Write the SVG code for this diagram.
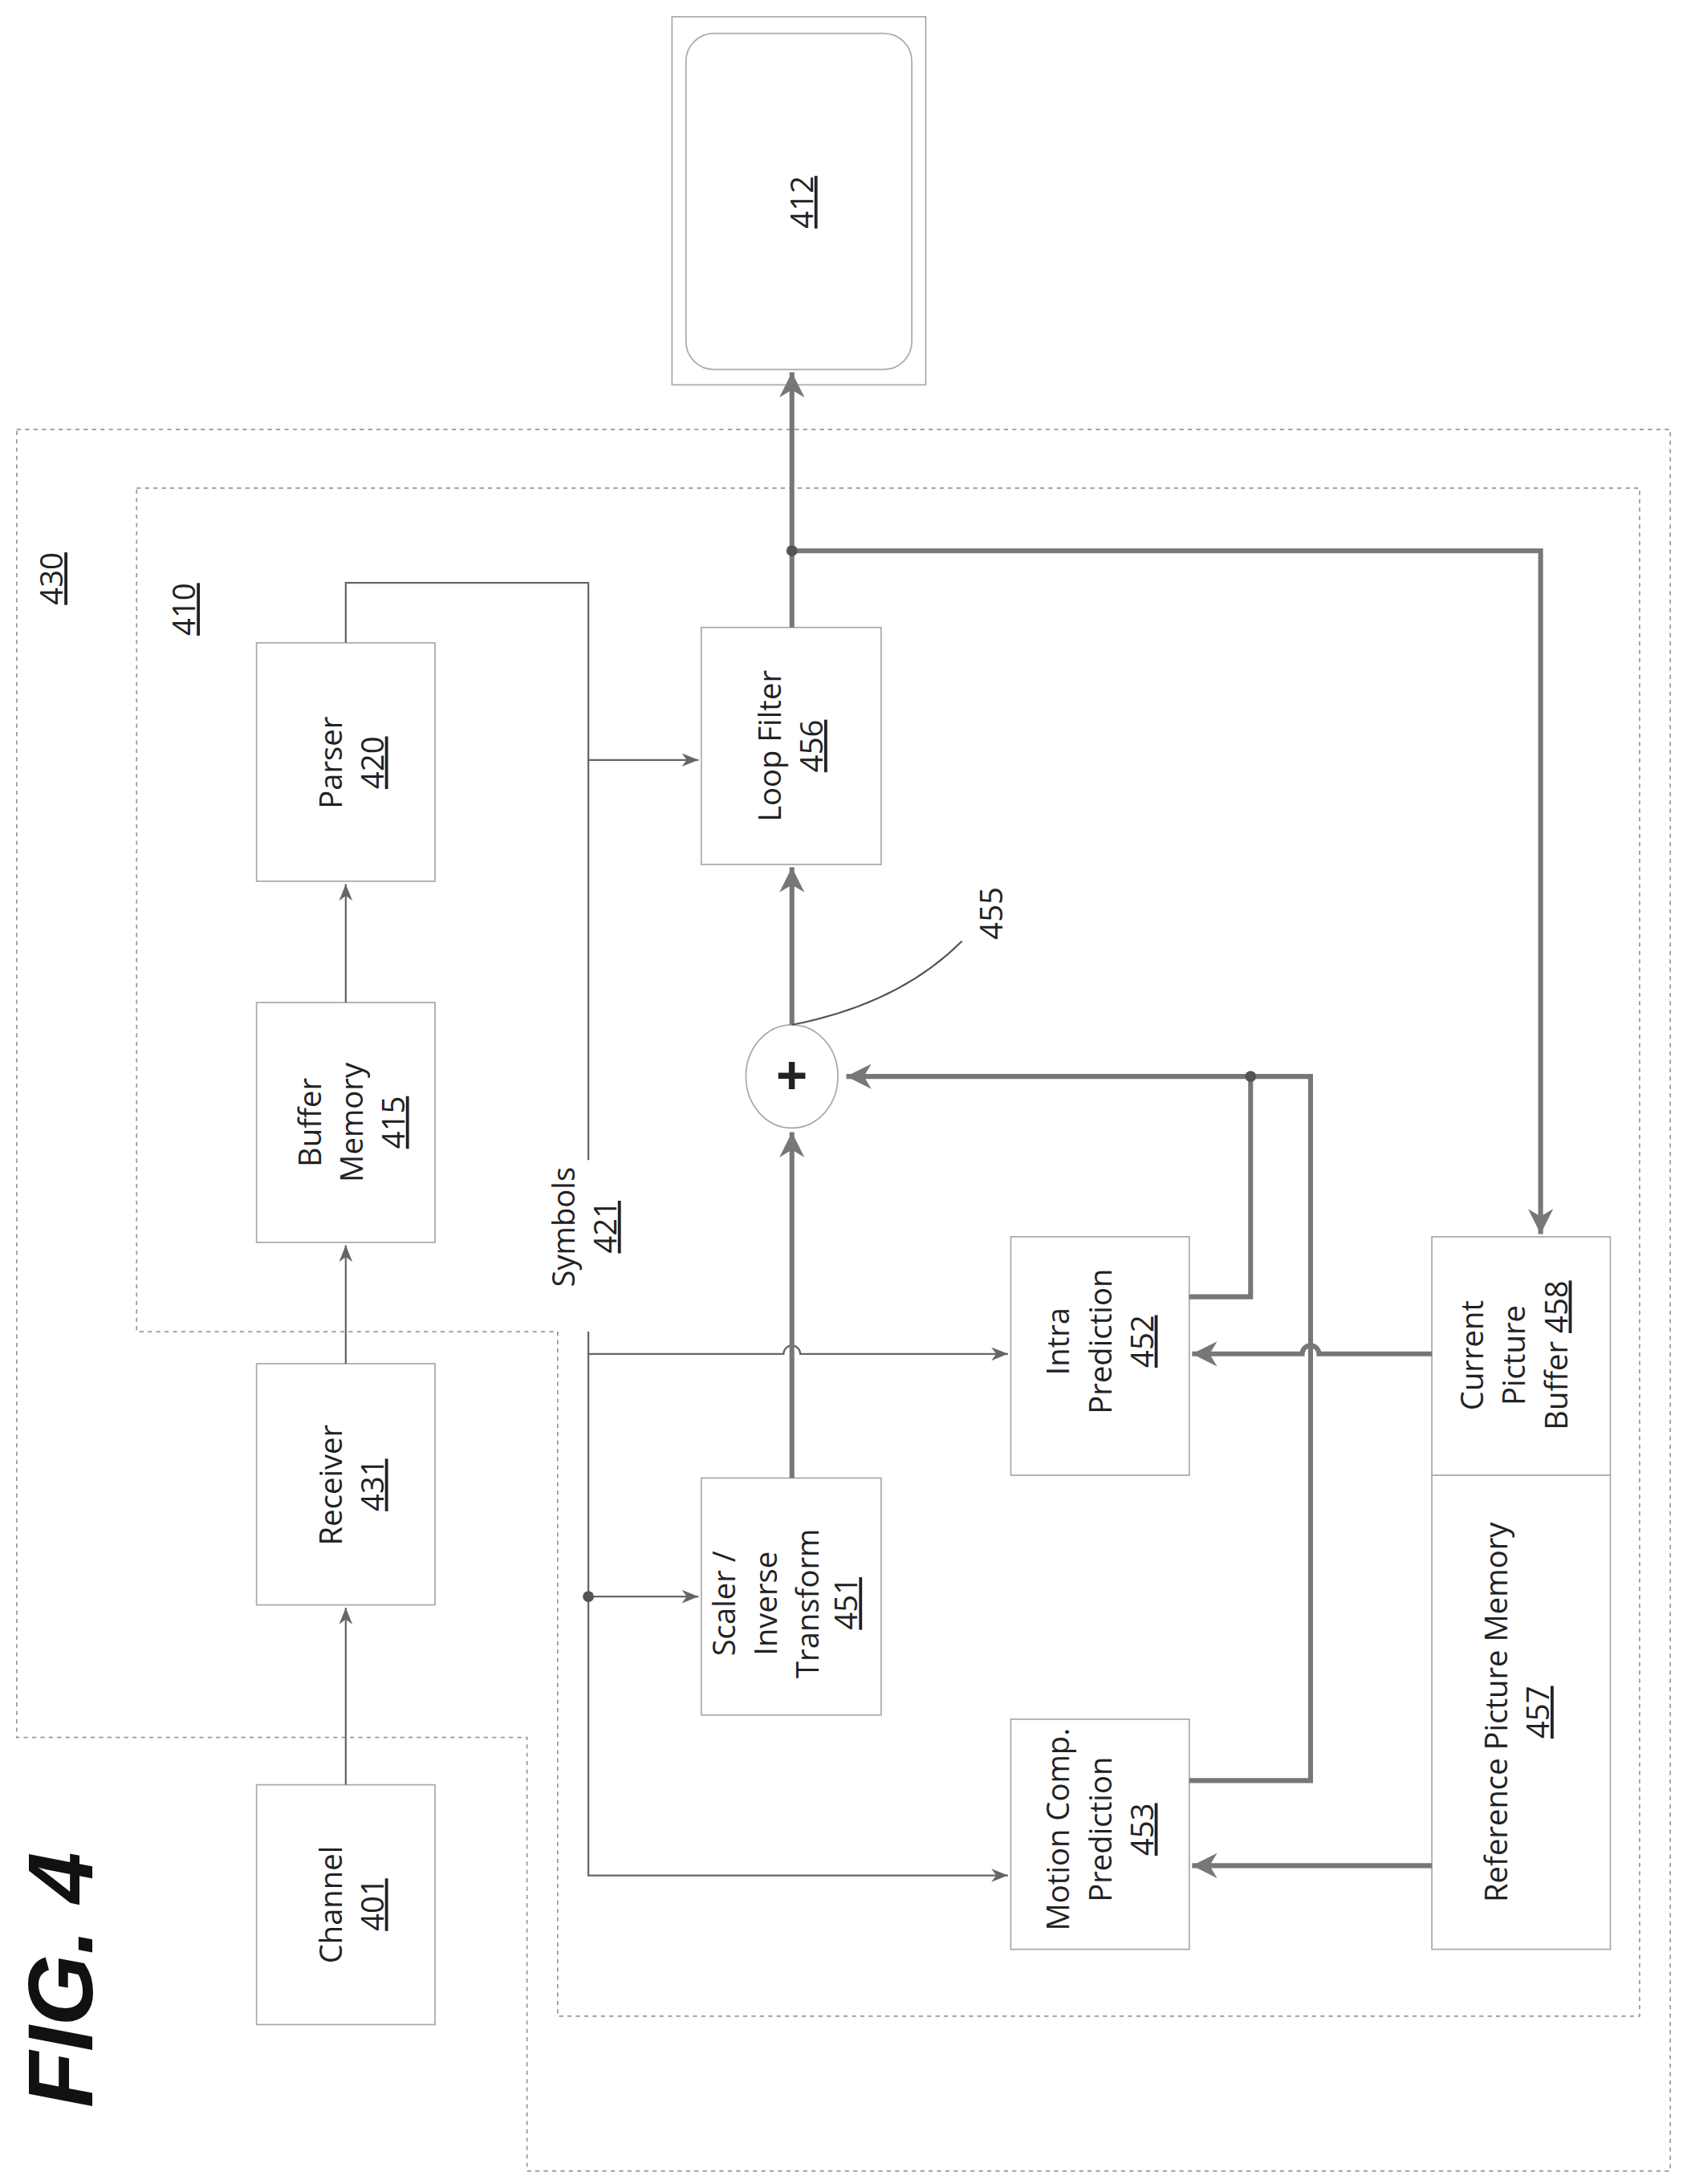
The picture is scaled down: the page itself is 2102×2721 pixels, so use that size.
<svg xmlns="http://www.w3.org/2000/svg" width="2102" height="2721" viewBox="0 0 2102 2721">
<style>
.box{fill:#fff;stroke:#aaa;stroke-width:1}
.dash{fill:none;stroke:#999;stroke-width:1;stroke-dasharray:3 3}
.thin{fill:none;stroke:#666;stroke-width:1.3}
.thick{fill:none;stroke:#777;stroke-width:3.5}
text{font-family:"Open Sans","Liberation Sans",sans-serif;font-size:22px;fill:#222;text-anchor:middle}
.u{text-decoration:underline}
</style>
<defs>
<marker id="a1" markerUnits="userSpaceOnUse" viewBox="0 0 10 10" refX="10" refY="5" markerWidth="12" markerHeight="12" orient="auto"><path d="M0,1 L10,5 L0,9 L3,5 z" fill="#666"/></marker>
<marker id="a2" markerUnits="userSpaceOnUse" viewBox="0 0 10 10" refX="10" refY="5" markerWidth="18" markerHeight="18" orient="auto"><path d="M0,0 L10,5 L0,10 L3,5 z" fill="#777"/></marker>
</defs>
<rect width="2102" height="2721" fill="#fff"/>
<g transform="scale(1.7372)">
<g id="frame430"><path class="dash" d="M12,308 H1198 V1557 H378 V1246 H12 Z"/>
<text class="u" transform="translate(45,415) rotate(-90)">430</text></g>
<g id="frame410"><path class="dash" d="M98,350 H1176 V1446 H400 V955 H98 Z"/>
<text class="u" transform="translate(140,437) rotate(-90)">410</text></g>
<g id="n412"><rect class="box" x="482" y="12" width="182" height="264"/><rect x="492" y="24" width="162" height="241" rx="20" fill="#fff" stroke="#aaa"/>
<text class="u" transform="translate(583,145) rotate(-90)">412</text></g>
<g id="n420"><rect class="box" x="184" y="461" width="128" height="171"/><text transform="translate(245,547) rotate(-90)"><tspan x="0">Parser</tspan><tspan class="u" x="0" dy="30">420</tspan></text></g>
<g id="n415"><rect class="box" x="184" y="719" width="128" height="172"/><text transform="translate(230,805) rotate(-90)"><tspan x="0">Buffer</tspan><tspan x="0" dy="30">Memory</tspan><tspan class="u" x="0" dy="30">415</tspan></text></g>
<g id="n431"><rect class="box" x="184" y="978" width="128" height="173"/><text transform="translate(245,1065) rotate(-90)"><tspan x="0">Receiver</tspan><tspan class="u" x="0" dy="30">431</tspan></text></g>
<g id="n401"><rect class="box" x="184" y="1280" width="128" height="172"/><text transform="translate(245,1366) rotate(-90)"><tspan x="0">Channel</tspan><tspan class="u" x="0" dy="30">401</tspan></text></g>
<g id="n456"><rect class="box" x="503" y="450" width="129" height="170"/><text transform="translate(560,535) rotate(-90)"><tspan x="0">Loop Filter</tspan><tspan class="u" x="0" dy="30">456</tspan></text></g>
<g id="n451"><rect class="box" x="503" y="1060" width="129" height="170"/><text transform="translate(527,1150) rotate(-90)"><tspan x="0">Scaler /</tspan><tspan x="0" dy="30">Inverse</tspan><tspan x="0" dy="30">Transform</tspan><tspan class="u" x="0" dy="28">451</tspan></text></g>
<g id="n452"><rect class="box" x="725" y="887" width="128" height="171"/><text transform="translate(767,962) rotate(-90)"><tspan x="0">Intra</tspan><tspan x="0" dy="30">Prediction</tspan><tspan class="u" x="0" dy="30">452</tspan></text></g>
<g id="n453"><rect class="box" x="725" y="1233" width="128" height="165"/><text transform="translate(767,1312) rotate(-90)"><tspan x="0">Motion Comp.</tspan><tspan x="0" dy="30">Prediction</tspan><tspan class="u" x="0" dy="30">453</tspan></text></g>
<g id="n458"><rect class="box" x="1027" y="887" width="128" height="171"/><text transform="translate(1064,972) rotate(-90)"><tspan x="0">Current</tspan><tspan x="0" dy="30">Picture</tspan><tspan x="0" dy="30">Buffer <tspan class="u">458</tspan></tspan></text></g>
<g id="n457"><rect class="box" x="1027" y="1058" width="128" height="340"/><text transform="translate(1081,1228) rotate(-90)"><tspan x="0">Reference Picture Memory</tspan><tspan class="u" x="0" dy="30">457</tspan></text></g>
<g id="n455"><ellipse cx="568" cy="772" rx="33" ry="37" fill="#fff" stroke="#aaa"/><text x="568" y="786" style="font-size:40px;font-weight:bold">+</text></g>
<g id="labels"><text transform="translate(412,880) rotate(-90)"><tspan x="0">Symbols</tspan><tspan class="u" x="0" dy="30">421</tspan></text>
<text transform="translate(719,655) rotate(-90)">455</text>
<text transform="translate(66,1420) rotate(-90)" style="font-family:'Liberation Sans',sans-serif;font-size:66px;font-weight:bold;font-style:italic;fill:#111">FIG. 4</text></g>
<g id="connectors">
<path class="thin" d="M248,1280 V1153" marker-end="url(#a1)"/>
<path class="thin" d="M248,978 V893" marker-end="url(#a1)"/>
<path class="thin" d="M248,719 V634" marker-end="url(#a1)"/>
<path class="thin" d="M248,461 V418 H422 V832"/>
<path class="thin" d="M422,545 H501" marker-end="url(#a1)"/>
<path class="thin" d="M422,955 V1345 H723" marker-end="url(#a1)"/>
<path class="thin" d="M422,971 H562 A6,6 0 0 1 574,971 H723" marker-end="url(#a1)"/>
<path class="thin" d="M422,1145 H501" marker-end="url(#a1)"/>
<circle cx="422" cy="1145" r="4" fill="#555"/>
<path class="thick" d="M568,1060 V812" marker-end="url(#a2)"/>
<path class="thick" d="M568,735 V622" marker-end="url(#a2)"/>
<path class="thick" d="M568,450 V267" marker-end="url(#a2)"/>
<path class="thick" d="M568,395 H1105 V885" marker-end="url(#a2)"/>
<circle cx="568" cy="395" r="4" fill="#555"/>
<path class="thick" d="M853,930 H897 V772"/>
<path class="thick" d="M853,1277 H940 V772 H607" marker-end="url(#a2)"/>
<circle cx="897" cy="772" r="4" fill="#555"/>
<path class="thick" d="M1027,971 H946 A6,6 0 0 0 934,971 H855" marker-end="url(#a2)"/>
<path class="thick" d="M1027,1338 H855" marker-end="url(#a2)"/>
<path fill="none" stroke="#555" stroke-width="1.2" d="M568,735 C620,725 660,705 690,675"/>
</g>
</g>
</svg>
